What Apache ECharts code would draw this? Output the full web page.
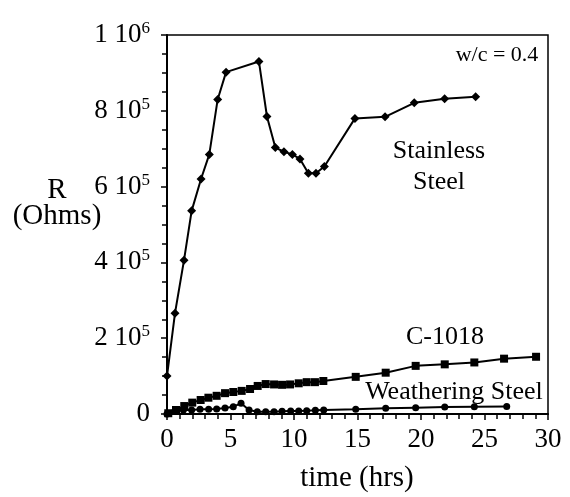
<!DOCTYPE html>
<html>
<head>
<meta charset="utf-8">
<script src="https://cdn.jsdelivr.net/npm/echarts@6/dist/echarts.min.js"></script>
<style>
  html, body { margin: 0; padding: 0; background: #fff; }
  #chart { width: 570px; height: 497px; }
</style>
</head>
<body>
<div id="chart"></div>
<script>
// Resistance vs. time for three rebar types (w/c = 0.4)
const stainlessTime = [0, 0.63, 1.34, 1.94, 2.68, 3.33, 3.99, 4.65, 7.24, 7.87, 8.53, 9.21, 9.87, 10.47, 11.13, 11.73, 12.39, 14.8, 17.17, 19.47, 21.86, 24.3];
const stainlessR = [100000, 266000, 406000, 536000, 620000, 685000, 830000, 902000, 930000, 785000, 703000, 692000, 685000, 673000, 635000, 635000, 653000, 780000, 784000, 821000, 832000, 837000];

const c1018Time = [0.1, 0.71, 1.36, 1.99, 2.65, 3.26, 3.91, 4.57, 5.22, 5.88, 6.54, 7.14, 7.77, 8.43, 9.06, 9.69, 10.37, 11.0, 11.65, 12.31, 14.86, 17.22, 19.58, 21.87, 24.2, 26.54, 29.06];
const c1018R = [2000, 10600, 21000, 30000, 37000, 43000, 48000, 55000, 58000, 61000, 66000, 74000, 79000, 78000, 77000, 78000, 81000, 84000, 84000, 87000, 98000, 109000, 127000, 131000, 136000, 146000, 151000];

const weatheringTime = [0, 0.63, 1.29, 1.94, 2.6, 3.28, 3.91, 4.57, 5.22, 5.83, 6.46, 7.11, 7.77, 8.43, 9.06, 9.74, 10.37, 11.0, 11.68, 12.34, 14.86, 17.22, 19.58, 21.87, 24.2, 26.75];
const weatheringR = [0, 7900, 10600, 10600, 12300, 12300, 13200, 15800, 19300, 28100, 10600, 6200, 6200, 6200, 7000, 7900, 7900, 8800, 9700, 10600, 12300, 15000, 16700, 18500, 19300, 20000];

// y tick labels as "mantissa 10^exp"
const yTickText = { 0: ['0', ''], 200000: ['2 10', '5'], 400000: ['4 10', '5'], 600000: ['6 10', '5'], 800000: ['8 10', '5'], 1000000: ['1 10', '6'] };
const xTicks = [0, 5, 10, 15, 20, 25, 30];

const zip = (a, b) => a.map((t, i) => [t, b[i]]);
const FONT = '"Liberation Serif", "Times New Roman", serif';

const chart = echarts.init(document.getElementById('chart'), null, { renderer: 'canvas' });

const lineStyle = { color: '#000', width: 2 };

const label = (text, x, y, size) => ({
  type: 'text', x, y,
  style: { text, font: size + 'px ' + FONT, fill: '#000', align: 'center', verticalAlign: 'middle' }
});

chart.setOption({
  animation: false,
  backgroundColor: '#fff',
  grid: { left: 167, right: 22, top: 35, bottom: 83, show: true, borderColor: '#000', borderWidth: 1.5, backgroundColor: 'transparent' },
  xAxis: {
    type: 'value', min: 0, max: 30, interval: 5,
    axisLine: { lineStyle: { color: '#000', width: 2 } },
    axisTick: { length: 6, lineStyle: { color: '#000', width: 1.5 } },
    minorTick: { show: true, splitNumber: 5, length: 5, lineStyle: { color: '#000', width: 1.5 } },
    splitLine: { show: false },
    axisLabel: {
      margin: 12, color: '#000', fontFamily: FONT, fontSize: 27,
      formatter: v => xTicks.includes(v) ? String(v) : ''
    }
  },
  yAxis: {
    type: 'value', min: 0, max: 1000000, interval: 200000,
    axisLine: { lineStyle: { color: '#000', width: 2 } },
    axisTick: { length: 6, lineStyle: { color: '#000', width: 1.5 } },
    minorTick: { show: true, splitNumber: 4, length: 5, lineStyle: { color: '#000', width: 1.5 } },
    splitLine: { show: false },
    axisLabel: {
      margin: 17, color: '#000', fontFamily: FONT,
      formatter: v => {
        const p = yTickText[v];
        if (!p) return '';
        return p[1] ? '{b|' + p[0] + '}{s|' + p[1] + '}' : '{b|' + p[0] + '}';
      },
      rich: {
        b: { fontFamily: FONT, fontSize: 27, color: '#000', lineHeight: 30 },
        s: { fontFamily: FONT, fontSize: 17, color: '#000', verticalAlign: 'top', lineHeight: 12 }
      }
    }
  },
  series: [
    { name: 'Stainless Steel', type: 'line', data: zip(stainlessTime, stainlessR), symbol: 'diamond', symbolSize: 9,
      itemStyle: { color: '#000' }, lineStyle },
    { name: 'C-1018', type: 'line', data: zip(c1018Time, c1018R), symbol: 'rect', symbolSize: 8,
      itemStyle: { color: '#000' }, lineStyle },
    { name: 'Weathering Steel', type: 'line', data: zip(weatheringTime, weatheringR), symbol: 'circle', symbolSize: 7,
      itemStyle: { color: '#000' }, lineStyle }
  ],
  graphic: [
    label('time (hrs)', 357, 478, 29),
    label('R', 57, 190, 29),
    label('(Ohms)', 57, 216, 29),
    label('w/c = 0.4', 497, 55, 22),
    label('Stainless', 439, 151, 26),
    label('Steel', 439, 182, 26),
    label('C-1018', 445, 337, 26),
    label('Weathering Steel', 454, 392, 26)
  ]
});
</script>
</body>
</html>
